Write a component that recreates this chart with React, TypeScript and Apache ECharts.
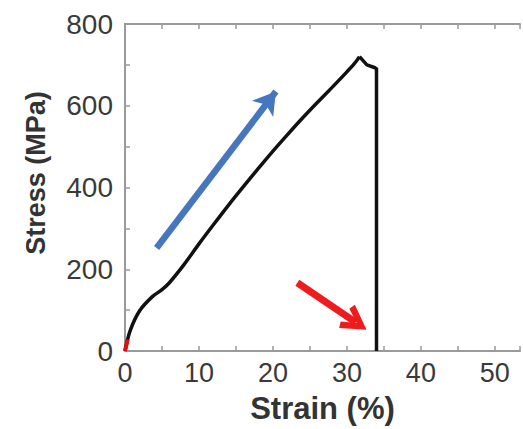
import React, { useEffect, useRef } from "react";
import * as echarts from "echarts";

// rising part of the curve (smooth)
const strainRise = [0, 0.7, 2, 3.7, 5, 6, 8, 10, 12, 14, 16, 18, 20, 22, 24, 26, 28, 30, 31, 31.7];
const stressRise = [0, 50, 99, 133, 150, 167, 212, 262, 310, 357, 402, 446, 489, 530, 570, 608, 645, 683, 703, 720];
// peak and fracture
const strainDrop = [31.7, 32.7, 33.8, 34, 34];
const stressDrop = [720, 700, 693, 690, 0];

const redStrain = [0, 0.35];
const redStress = [0, 28];

const xTicks = [0, 10, 20, 30, 40, 50];
const yTicks = [0, 200, 400, 600, 800];

const blueArrow = [[4.27, 252], [20.4, 635]];
const redArrow = [[23.3, 167], [31.2, 70]];

export default function App() {
  const ref = useRef<HTMLDivElement>(null);
  useEffect(() => {
    if (!ref.current) return;
    const chart = echarts.init(ref.current, null, { renderer: "svg" });
    const axisGray = "#9a9a9a";
    const labelColor = "#3a3a3a";
    const font = "Liberation Sans";
    const xMax = 53.4;
    const common = {
      axisLine: { show: true, lineStyle: { color: axisGray, width: 2 } },
      axisTick: { show: true, inside: true, length: 5, lineStyle: { color: axisGray, width: 1.5 } },
      minorTick: { show: true, splitNumber: 2, length: 5, lineStyle: { color: axisGray, width: 1.5 } },
      splitLine: { show: false },
    };
    chart.setOption({
      animation: false,
      backgroundColor: "#ffffff",
      grid: { left: 125, top: 24, right: -3, bottom: 75, containLabel: false },
      xAxis: [
        {
          type: "value",
          min: 0,
          max: xMax,
          interval: 10,
          position: "bottom",
          name: "Strain (%)",
          nameLocation: "middle",
          nameGap: 42,
          nameTextStyle: { fontFamily: font, fontSize: 31, fontWeight: "bold", color: "#333" },
          ...common,
          axisLabel: {
            fontFamily: font,
            fontSize: 27,
            color: labelColor,
            margin: 8,
            formatter: (v: number) => (xTicks.includes(v) ? String(v) : ""),
          },
        },
        {
          type: "value",
          min: 0,
          max: xMax,
          interval: 10,
          position: "top",
          ...common,
          axisLabel: { show: false },
        },
      ],
      yAxis: {
        type: "value",
        min: 0,
        max: 800,
        interval: 200,
        name: "Stress (MPa)",
        nameLocation: "middle",
        nameGap: 76,
        nameRotate: 90,
        nameTextStyle: { fontFamily: font, fontSize: 27, fontWeight: "bold", color: "#333", padding: [0, 0, 0, 29] },
        ...common,
        axisLabel: {
          fontFamily: font,
          fontSize: 28,
          color: labelColor,
          margin: 12,
          formatter: (v: number) => (yTicks.includes(v) ? String(v) : ""),
        },
      },
      series: [
        {
          type: "line",
          xAxisIndex: 0,
          data: strainRise.map((x, i) => [x, stressRise[i]]),
          showSymbol: false,
          symbol: "none",
          smooth: 0.3,
          lineStyle: { color: "#111111", width: 3.5 },
          silent: true,
          markLine: {
            silent: true,
            animation: false,
            label: { show: false },
            emphasis: { disabled: true },
            data: [
              [
                { coord: blueArrow[0], symbol: "none", lineStyle: { color: "#4677be", width: 6.5, type: "solid" } },
                { coord: blueArrow[1], symbol: "arrow", symbolSize: [20, 22] },
              ],
              [
                { coord: redArrow[0], symbol: "none", lineStyle: { color: "#ee1c1c", width: 7, type: "solid" } },
                {
                  coord: redArrow[1],
                  symbol: "path://M0,20 L10,0 L20,20 L15.5,22 L10,10 L4.5,22 Z",
                  symbolSize: [28, 26],
                },
              ],
            ],
          },
        },
        {
          type: "line",
          xAxisIndex: 0,
          data: strainDrop.map((x, i) => [x, stressDrop[i]]),
          showSymbol: false,
          symbol: "none",
          lineStyle: { color: "#111111", width: 3.5, join: "round" },
          silent: true,
        },
        {
          type: "line",
          xAxisIndex: 0,
          data: redStrain.map((x, i) => [x, redStress[i]]),
          showSymbol: false,
          symbol: "none",
          lineStyle: { color: "#e01010", width: 4 },
          silent: true,
        },
      ],
    });
    return () => chart.dispose();
  }, []);
  return (
    <div
      ref={ref}
      style={{ position: "absolute", left: 0, top: 0, width: 523, height: 429, background: "#fff" }}
    />
  );
}
